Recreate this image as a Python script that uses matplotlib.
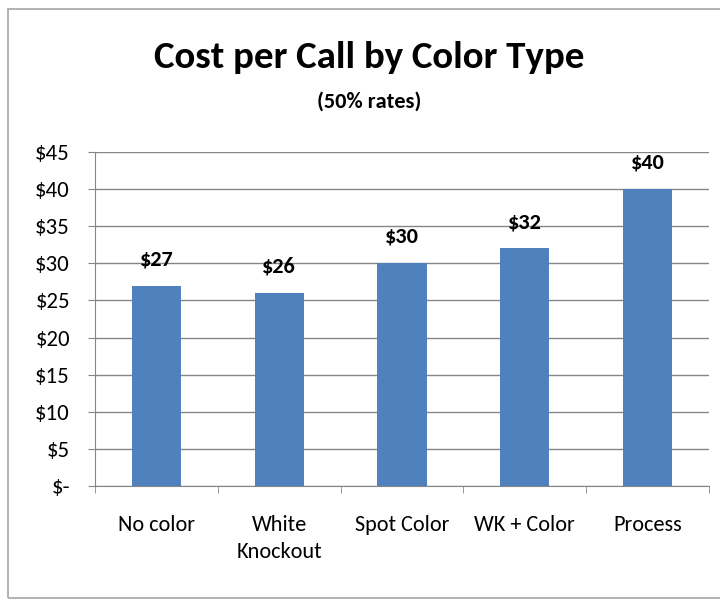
import matplotlib
matplotlib.use('Agg')
import matplotlib.pyplot as plt
from matplotlib import font_manager
from matplotlib.patches import Rectangle

categories = ['No color', 'White\nKnockout', 'Spot Color', 'WK + Color', 'Process']
costs = [27, 26, 30, 32, 40]
y_ticks = [0, 5, 10, 15, 20, 25, 30, 35, 40, 45]
y_tick_labels = ['$-' if t == 0 else f'${t}' for t in y_ticks]

# Carlito has Calibri's metrics; fall back to DejaVu if it is missing
installed = {f.name for f in font_manager.fontManager.ttflist}
family = 'Carlito' if 'Carlito' in installed else 'DejaVu Sans'
plt.rcParams['font.family'] = [family, 'DejaVu Sans']

fig = plt.figure(figsize=(7.2, 6.02), dpi=100)
ax = fig.add_axes([95 / 720, 1 - 486 / 602, 614 / 720, 334 / 602])

# outer chart frame
fig.patches.append(Rectangle((8 / 720, 4 / 602), 1.2, 1 - 13 / 602, transform=fig.transFigure,
                             fill=False, edgecolor='#a6a6a6', linewidth=1.2))

x = range(len(categories))
ax.bar(x, costs, width=0.4, color='#4f81bd', zorder=3)
for i, c in enumerate(costs):
    ax.annotate(f'${c}', (i, c), xytext=(0, 19), textcoords='offset points',
                ha='center', va='center', fontsize=16, fontweight='bold')

ax.set_xlim(-0.5, len(categories) - 0.5)
ax.set_ylim(0, 45)
ax.set_yticks(y_ticks)
ax.set_yticklabels(y_tick_labels, fontsize=16.5)
ax.set_xticks(list(x))
ax.set_xticklabels(categories, fontsize=16, linespacing=1.45)
ax.set_xticks([i - 0.5 for i in range(len(categories) + 1)], minor=True)
ax.tick_params(axis='x', which='major', length=0, pad=21)
ax.tick_params(axis='x', which='minor', length=5, color='#868686')
ax.tick_params(axis='y', length=5, color='#868686', pad=13)
ax.grid(axis='y', color='#868686', linewidth=1, zorder=0)
for side in ['top', 'right']:
    ax.spines[side].set_visible(False)
for side in ['left', 'bottom']:
    ax.spines[side].set_color('#868686')

fig.text(369 / 720, 1 - 58 / 602, 'Cost per Call by Color Type', ha='center', va='center',
         fontsize=28, fontweight='bold')
fig.text(369 / 720, 1 - 102 / 602, '(50% rates)', ha='center', va='center',
         fontsize=16, fontweight='bold')

fig.savefig('out.png', dpi=100)
